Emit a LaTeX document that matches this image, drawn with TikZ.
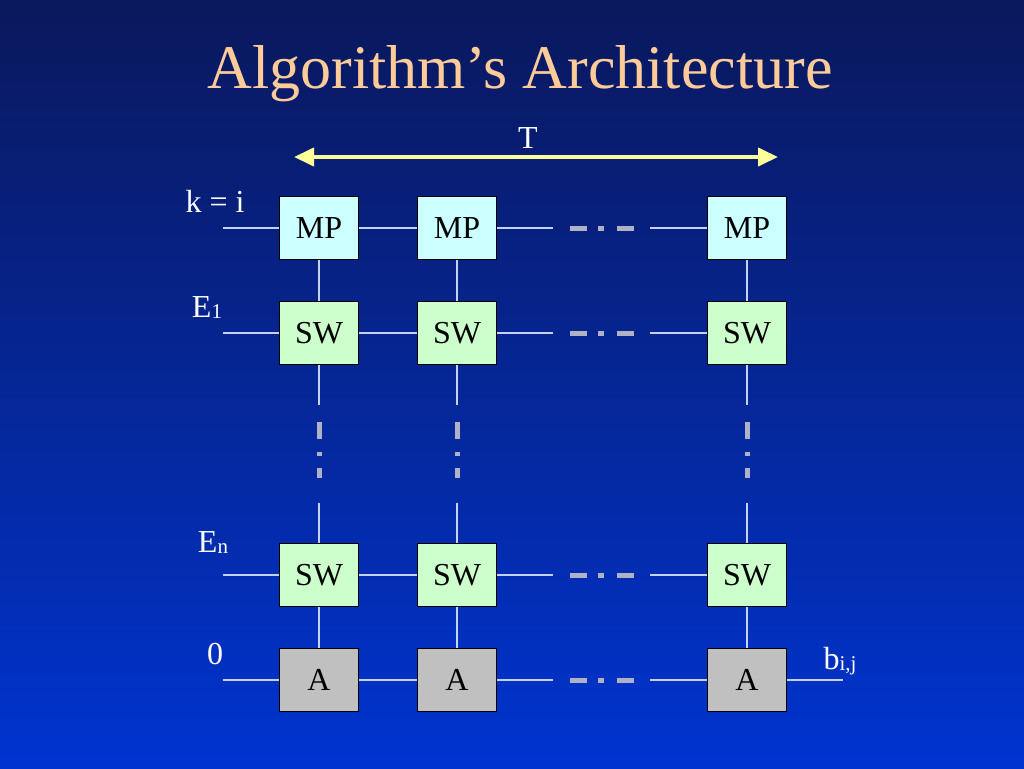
\documentclass[tikz,border=0pt]{standalone}
\usepackage{fontspec}
\setmainfont{Liberation Serif}
\usetikzlibrary{arrows.meta}
\definecolor{bgtop}{RGB}{10,24,92}
\definecolor{bgbot}{RGB}{0,52,208}
\definecolor{titlepeach}{RGB}{255,204,153}
\definecolor{arrowyellow}{RGB}{255,255,153}
\definecolor{mpcyan}{RGB}{204,255,255}
\definecolor{swgreen}{RGB}{204,255,204}
\definecolor{accgray}{RGB}{192,192,192}
\definecolor{wirecol}{RGB}{195,210,245}
\definecolor{gapgray}{RGB}{175,178,196}
\newcommand{\sub}[1]{\raisebox{-1pt}{\fontsize{21}{21}\selectfont #1}}

\begin{document}
\begin{tikzpicture}[x=1pt,y=-1pt]
\tikzstyle{box}=[rectangle,draw=black,line width=1pt,minimum width=79pt,minimum height=63pt,inner sep=0pt,font=\fontsize{32}{38}\selectfont]
\tikzstyle{mp}=[box,fill=mpcyan]
\tikzstyle{sw}=[box,fill=swgreen]
\tikzstyle{acc}=[box,fill=accgray]
\tikzstyle{wire}=[draw=wirecol,line width=1.2pt]
\tikzstyle{hgap}=[draw=gapgray,line width=5pt,dash pattern=on 17pt off 11pt on 6pt off 13pt on 17pt]
\tikzstyle{vgap}=[draw=gapgray,line width=5pt,dash pattern=on 17pt off 13pt on 4pt off 12pt on 10pt]
\tikzstyle{lbl}=[text=white,anchor=base,inner sep=0pt,font=\fontsize{32}{38}\selectfont]
% background
\shade[top color=bgtop,bottom color=bgbot] (0,0) rectangle (1024,768);
\useasboundingbox (0,0) rectangle (1024,768);
% title and time arrow
\node [anchor=base,inner sep=0pt,text=titlepeach,font=\fontsize{62}{70}\selectfont] (title) at (520,88) {Algorithm’s Architecture};
\node [lbl] (tlbl) at (528,148) {T};
\coordinate (ta) at (294,157);
\coordinate (tb) at (778,157);
\draw [arrowyellow,line width=4pt,{Triangle[length=20pt,width=18pt]}-{Triangle[length=20pt,width=18pt]}] (ta) -- (tb);
% boxes
\node [mp] (mpa) at (319,228) {MP};
\node [mp] (mpb) at (457,228) {MP};
\node [mp] (mpc) at (747,228) {MP};
\node [sw] (swa) at (319,333) {SW};
\node [sw] (swb) at (457,333) {SW};
\node [sw] (swc) at (747,333) {SW};
\node [sw] (sna) at (319,575) {SW};
\node [sw] (snb) at (457,575) {SW};
\node [sw] (snc) at (747,575) {SW};
\node [acc] (aa) at (319,680) {A};
\node [acc] (ab) at (457,680) {A};
\node [acc] (ac) at (747,680) {A};
% row labels
\node [lbl] (kl) at (215,212) {k = i};
\node [lbl] (e1l) at (207,317) {E\sub{1}};
\node [lbl] (enl) at (213,552) {E\sub{n}};
\node [lbl] (zl) at (215,664) {0};
\node [lbl] (bl) at (840,669) {b\sub{i,j}};
% row MP
\coordinate (mpin) at (223,228);
\coordinate (mpg1) at (553,228);
\coordinate (mpd1) at (570,228);
\coordinate (mpd2) at (634,228);
\coordinate (mpg2) at (650,228);
\draw [wire] (mpin) -- (mpa);
\draw [wire] (mpa) -- (mpb);
\draw [wire] (mpb) -- (mpg1);
\draw [hgap] (mpd1) -- (mpd2);
\draw [wire] (mpg2) -- (mpc);
% row E1
\coordinate (swin) at (223,333);
\coordinate (swg1) at (553,333);
\coordinate (swd1) at (570,333);
\coordinate (swd2) at (634,333);
\coordinate (swg2) at (650,333);
\draw [wire] (swin) -- (swa);
\draw [wire] (swa) -- (swb);
\draw [wire] (swb) -- (swg1);
\draw [hgap] (swd1) -- (swd2);
\draw [wire] (swg2) -- (swc);
% row En
\coordinate (snin) at (223,575);
\coordinate (sng1) at (553,575);
\coordinate (snd1) at (570,575);
\coordinate (snd2) at (634,575);
\coordinate (sng2) at (650,575);
\draw [wire] (snin) -- (sna);
\draw [wire] (sna) -- (snb);
\draw [wire] (snb) -- (sng1);
\draw [hgap] (snd1) -- (snd2);
\draw [wire] (sng2) -- (snc);
% row A
\coordinate (ain) at (223,680);
\coordinate (ag1) at (553,680);
\coordinate (ad1) at (570,680);
\coordinate (ad2) at (634,680);
\coordinate (ag2) at (650,680);
\coordinate (aout) at (843,680);
\draw [wire] (ain) -- (aa);
\draw [wire] (aa) -- (ab);
\draw [wire] (ab) -- (ag1);
\draw [hgap] (ad1) -- (ad2);
\draw [wire] (ag2) -- (ac);
\draw [wire] (ac) -- (aout);
% column 1
\coordinate (va1) at (319,405);
\coordinate (va2) at (319,422);
\coordinate (va3) at (319,478);
\coordinate (va4) at (319,503);
\draw [wire] (mpa) -- (swa);
\draw [wire] (swa.south) -- (va1);
\draw [vgap] (va2) -- (va3);
\draw [wire] (va4) -- (sna.north);
\draw [wire] (sna) -- (aa);
% column 2
\coordinate (vb1) at (457,405);
\coordinate (vb2) at (457,422);
\coordinate (vb3) at (457,478);
\coordinate (vb4) at (457,503);
\draw [wire] (mpb) -- (swb);
\draw [wire] (swb.south) -- (vb1);
\draw [vgap] (vb2) -- (vb3);
\draw [wire] (vb4) -- (snb.north);
\draw [wire] (snb) -- (ab);
% column 3
\coordinate (vc1) at (747,405);
\coordinate (vc2) at (747,422);
\coordinate (vc3) at (747,478);
\coordinate (vc4) at (747,503);
\draw [wire] (mpc) -- (swc);
\draw [wire] (swc.south) -- (vc1);
\draw [vgap] (vc2) -- (vc3);
\draw [wire] (vc4) -- (snc.north);
\draw [wire] (snc) -- (ac);
\end{tikzpicture}
\end{document}
